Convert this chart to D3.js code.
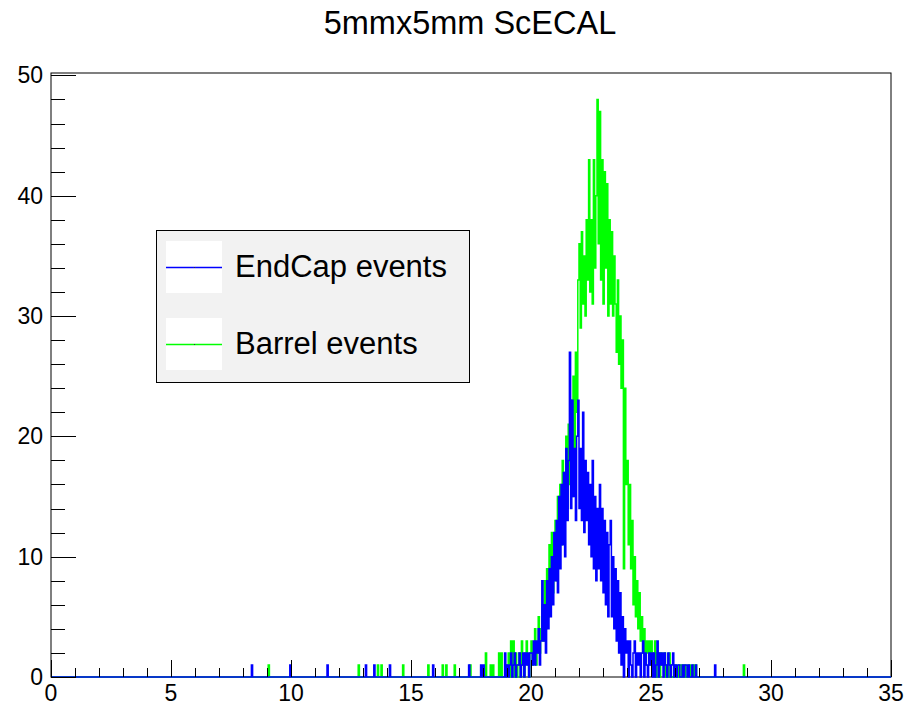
<!DOCTYPE html>
<html>
<head>
<meta charset="utf-8">
<script src="https://cdn.jsdelivr.net/npm/d3@7"></script>
<style>
  body { margin: 0; background: #fff; }
  text { font-family: "Liberation Sans", Arial, sans-serif; }
</style>
</head>
<body>
<div id="chart"></div>
<script>
'use strict';

/* histogram binning */
var xMin = 0, xMax = 35, binWidth = 0.05;
var coreStart = 19.0;

/* EndCap counts, bins of 0.05 from 19.0 to 27.0 */
var endcapCore = [
  1,0,1,2,0,1,2,0,1,1,
  2,0,1,2,0,2,1,2,0,2,
  2,1,3,1,3,2,4,1,3,8,
  3,6,2,8,4,9,5,10,6,12,
  8,13,7,15,9,16,11,17,10,19,
  13,18,27,14,23,15,19,13,20,23,
  14,19,13,22,12,18,13,17,11,16,
  10,18,9,15,8,14,9,16,8,14,
  7,13,6,12,5,11,13,5,10,4,
  9,3,8,2,7,1,5,0,4,2,
  3,0,3,1,0,2,3,0,2,1,
  2,0,2,3,0,2,1,0,2,1,
  2,0,2,0,1,3,0,2,1,2,
  0,2,1,0,2,1,0,1,2,0,
  1,0,1,1,0,0,1,0,1,1,
  0,1,0,0,1,0,0,1,0,0
];

/* Barrel counts, same bins */
var barrelCore = [
  1,2,0,3,1,3,0,2,0,1,
  2,0,3,1,0,2,3,1,0,2,
  3,1,2,4,1,2,5,2,4,6,
  3,8,4,9,5,11,6,12,7,10,
  13,8,15,10,16,11,18,12,17,20,
  14,21,16,23,15,25,19,27,22,33,
  36,29,37,31,35,30,38,33,43,32,
  38,31,43,34,40,48,36,47,33,43,
  31,42,34,41,30,38,31,37,30,35,
  31,27,33,26,30,24,28,9,24,16,
  18,11,16,9,13,6,10,5,8,4,
  7,3,5,2,4,1,3,2,3,1,
  3,1,2,3,0,2,2,0,2,1,
  1,2,0,1,0,2,1,0,0,1,
  1,0,0,1,1,0,1,0,1,0,
  0,1,1,0,0,1,0,1,0,0
];

/* single entries outside the core range (repeated value = 2 entries) */
var endcapStray = [8.35, 9.95, 11.5, 13.1, 13.45, 14.1, 15.9, 17.4, 17.9, 18.0, 18.9, 18.9, 27.65];
var barrelStray = [9.05, 12.8, 13.6, 13.75, 14.65, 15.7, 16.3, 16.45, 16.8, 17.45,
                   18.1, 18.1, 18.3, 18.4, 18.65, 18.65, 18.75, 18.75, 28.85];

var xTicks = [0, 5, 10, 15, 20, 25, 30, 35];
var yTicks = [0, 10, 20, 30, 40, 50];
var legendLabels = ["EndCap events", "Barrel events"];
var seriesColors = ["#0000ff", "#00ff00"];

var width = 908, height = 708;
var frame = { left: 51, right: 891, top: 73, bottom: 677 };

var svg = d3.select("#chart").append("svg")
  .attr("width", width)
  .attr("height", height);

svg.append("rect")
  .attr("width", width)
  .attr("height", height)
  .attr("fill", "#fff");

var x = d3.scaleLinear().domain([xMin, xMax]).range([frame.left, frame.right]);
var y = d3.scaleLinear().domain([0, 50.2]).range([frame.bottom, frame.top]);

/* fill full bin array from core + stray entries */
function buildBins(core, stray) {
  var n = Math.round((xMax - xMin) / binWidth);
  var bins = new Array(n).fill(0);
  var off = Math.round((coreStart - xMin) / binWidth);
  core.forEach(function(c, i) { bins[off + i] += c; });
  stray.forEach(function(v) { bins[Math.floor(v / binWidth + 1e-6)] += 1; });
  return bins;
}

function stepPoints(bins) {
  var pts = [];
  bins.forEach(function(c, k) {
    pts.push([xMin + k * binWidth, c]);
    pts.push([xMin + (k + 1) * binWidth, c]);
  });
  return pts;
}

var line = d3.line()
  .x(function(d) { return x(d[0]); })
  .y(function(d) { return y(d[1]); });

/* frame */
svg.append("rect")
  .attr("x", frame.left)
  .attr("y", frame.top)
  .attr("width", frame.right - frame.left)
  .attr("height", frame.bottom - frame.top)
  .attr("fill", "none")
  .attr("stroke", "#000")
  .attr("stroke-width", 1);

/* histograms: barrel first, endcap on top */
var series = [
  { bins: buildBins(barrelCore, barrelStray), color: seriesColors[1] },
  { bins: buildBins(endcapCore, endcapStray), color: seriesColors[0] }
];

svg.append("g").selectAll("path")
  .data(series)
  .enter().append("path")
  .attr("d", function(d) { return line(stepPoints(d.bins)); })
  .attr("fill", "none")
  .attr("stroke", function(d) { return d.color; })
  .attr("stroke-width", 1.5);

/* y axis ticks (ROOT style, inside frame) */
var yMinor = d3.range(0, 51, 2);
svg.append("g").selectAll("line")
  .data(yMinor)
  .enter().append("line")
  .attr("x1", frame.left)
  .attr("x2", function(d) { return frame.left + (d % 10 === 0 ? 25 : 14); })
  .attr("y1", function(d) { return Math.round(y(d)) + 0.5; })
  .attr("y2", function(d) { return Math.round(y(d)) + 0.5; })
  .attr("stroke", "#000")
  .attr("stroke-width", 1);

svg.append("g").selectAll("text")
  .data(yTicks)
  .enter().append("text")
  .attr("x", 43)
  .attr("y", function(d) { return y(d) + 8; })
  .attr("text-anchor", "end")
  .style("font-size", "23px")
  .text(function(d) { return d; });

/* x axis ticks */
var xMinor = d3.range(0, 36, 1);
svg.append("g").selectAll("line")
  .data(xMinor)
  .enter().append("line")
  .attr("x1", function(d) { return Math.round(x(d)) + 0.5; })
  .attr("x2", function(d) { return Math.round(x(d)) + 0.5; })
  .attr("y1", frame.bottom)
  .attr("y2", function(d) { return frame.bottom - (d % 5 === 0 ? 17 : 9); })
  .attr("stroke", "#000")
  .attr("stroke-width", 1);

svg.append("g").selectAll("text")
  .data(xTicks)
  .enter().append("text")
  .attr("x", function(d) { return x(d); })
  .attr("y", 701)
  .attr("text-anchor", "middle")
  .style("font-size", "23px")
  .text(function(d) { return d; });

/* title */
svg.append("text")
  .attr("x", 470)
  .attr("y", 34)
  .attr("text-anchor", "middle")
  .style("font-size", "32.5px")
  .text("5mmx5mm ScECAL");

/* legend */
var legend = svg.append("g");
legend.append("rect")
  .attr("x", 156.5).attr("y", 230.5)
  .attr("width", 313).attr("height", 152)
  .attr("fill", "#f2f2f2")
  .attr("stroke", "#000")
  .attr("stroke-width", 1);

var entry = legend.selectAll("g.entry")
  .data(legendLabels)
  .enter().append("g")
  .attr("class", "entry")
  .attr("transform", function(d, i) { return "translate(0," + (i * 77) + ")"; });

entry.append("rect")
  .attr("x", 166).attr("y", 241)
  .attr("width", 56).attr("height", 52)
  .attr("fill", "#fff");

entry.append("line")
  .attr("x1", 166).attr("x2", 222)
  .attr("y1", 267.5).attr("y2", 267.5)
  .attr("stroke", function(d) { return d === legendLabels[0] ? seriesColors[0] : seriesColors[1]; })
  .attr("stroke-width", 1.5);

entry.append("rect")
  .attr("x", 194).attr("y", 267)
  .attr("width", 1).attr("height", 1)
  .attr("fill", "#333");

entry.append("text")
  .attr("x", 235)
  .attr("y", 277)
  .style("font-size", "31px")
  .text(function(d) { return d; });
</script>
</body>
</html>
